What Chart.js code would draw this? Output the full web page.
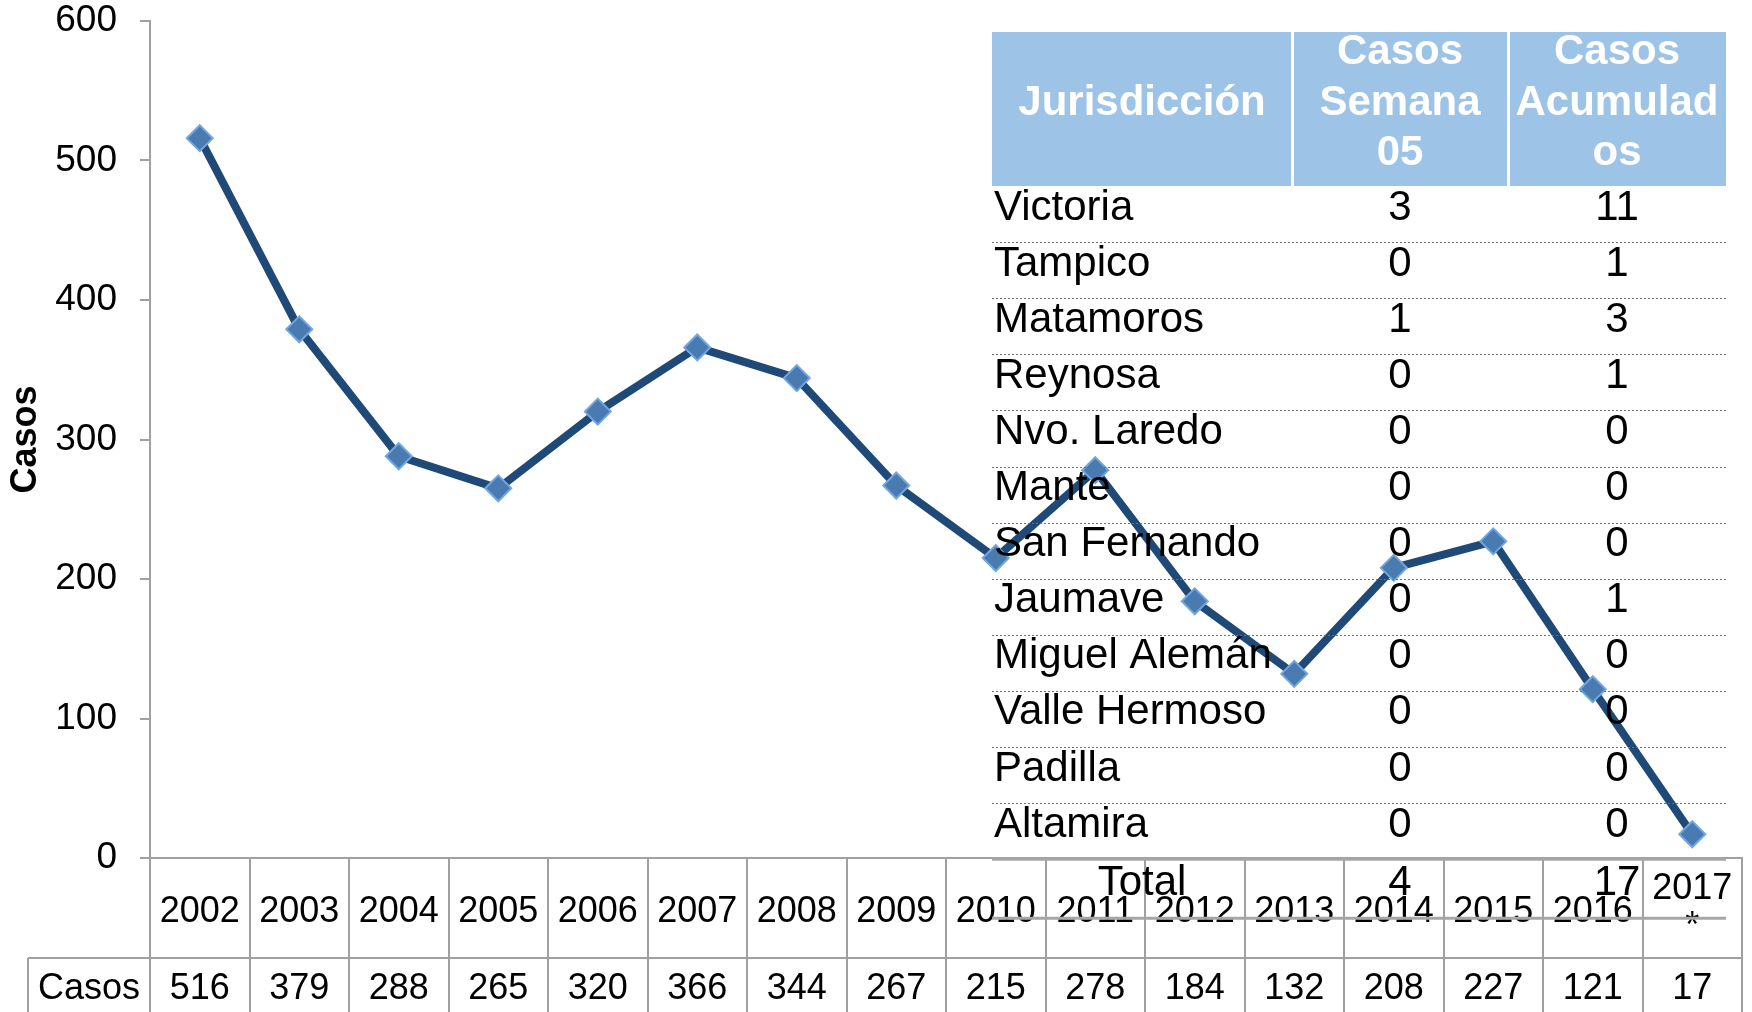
<!DOCTYPE html>
<html>
<head>
<meta charset="utf-8">
<script src="https://cdn.jsdelivr.net/npm/chart.js@4.4.0/dist/chart.umd.min.js"></script>
<style>
  body { margin: 0; background: #fff; }
  #wrap { width: 1752px; height: 1012px; }
</style>
</head>
<body>
<div id="wrap"><canvas id="chart" width="1752" height="1012"></canvas></div>
<script>
// datos de la grafica
const years = ['2002', '2003', '2004', '2005', '2006', '2007', '2008', '2009', '2010', '2011', '2012', '2013', '2014', '2015', '2016', '2017\n*'];
const casos = [516, 379, 288, 265, 320, 366, 344, 267, 215, 278, 184, 132, 208, 227, 121, 17];
const yTicks = [0, 100, 200, 300, 400, 500, 600];

// tabla por jurisdiccion
const encabezados = [['Jurisdicción'], ['Casos', 'Semana', '05'], ['Casos', 'Acumulad', 'os']];
const jurisdicciones = ['Victoria', 'Tampico', 'Matamoros', 'Reynosa', 'Nvo. Laredo', 'Mante', 'San Fernando', 'Jaumave', 'Miguel Alemán', 'Valle Hermoso', 'Padilla', 'Altamira'];
const semana05 = [3, 0, 1, 0, 0, 0, 0, 0, 0, 0, 0, 0];
const acumulados = [11, 1, 3, 1, 0, 0, 0, 1, 0, 0, 0, 0];
const totales = ['Total', 4, 17];

const FONT = '"Liberation Sans", Arial, sans-serif';
const GRIS = '#a0a0a0';
Chart.defaults.font.family = FONT;
Chart.defaults.color = '#000';

const tablas = {
	id: 'tablas',
	afterDraw(chart) {
		const c = chart.ctx;
		const x = chart.scales.x;
		const step = (x.right - x.left) / years.length;
		const top = x.top;
		const split = top + 100;
		const bottom = chart.height;

		// tabla de datos bajo el eje
		c.save();
		c.strokeStyle = GRIS;
		c.lineWidth = 2;
		c.beginPath();
		for (let k = 0; k <= years.length; k++) {
			const px = Math.round(x.getPixelForValue(0) - step / 2 + k * step);
			c.moveTo(px, top);
			c.lineTo(px, bottom);
		}
		c.moveTo(28, split);
		c.lineTo(x.right, split);
		c.moveTo(28, split);
		c.lineTo(28, bottom);
		c.stroke();

		c.fillStyle = '#000';
		c.textAlign = 'center';
		c.textBaseline = 'middle';
		c.font = '36px ' + FONT;
		years.forEach((y, i) => {
			const cx = x.getPixelForValue(i);
			const lines = y.split('\n');
			if (lines.length === 1) {
				c.fillText(lines[0], cx, top + 54);
			} else {
				lines.forEach((l, j) => c.fillText(l, cx, top + 31 + j * 38));
			}
			c.fillText(String(casos[i]), cx, split + 31);
		});
		c.fillText('Casos', (28 + x.left) / 2, split + 31);

		// tabla de jurisdicciones
		const L = 992, R = 1726, c1 = 1292, c2 = 1508;
		const hTop = 32, hBot = 186, rowH = 56.1;
		const cols = [(L + c1) / 2, (c1 + c2) / 2, (c2 + R) / 2];
		c.fillStyle = '#9dc3e6';
		c.fillRect(L, hTop, R - L, hBot - hTop);
		c.fillStyle = '#fff';
		c.fillRect(c1 - 1, hTop, 3, hBot - hTop);
		c.fillRect(c2 - 1, hTop, 3, hBot - hTop);
		c.font = 'bold 42px ' + FONT;
		const mid = (hTop + hBot) / 2 - 6;
		encabezados.forEach((lines, j) => {
			lines.forEach((l, k) => {
				c.fillText(l, cols[j], mid + (k - (lines.length - 1) / 2) * 50.5);
			});
		});

		c.fillStyle = '#000';
		c.font = '42px ' + FONT;
		jurisdicciones.forEach((n, i) => {
			const ty = hBot + i * rowH + 22;
			c.textAlign = 'left';
			c.fillText(n, L + 2, ty);
			c.textAlign = 'center';
			c.fillText(String(semana05[i]), cols[1], ty);
			c.fillText(String(acumulados[i]), cols[2], ty);
		});

		c.strokeStyle = '#707070';
		c.lineWidth = 1;
		c.setLineDash([2, 2]);
		c.beginPath();
		for (let k = 1; k < jurisdicciones.length; k++) {
			const py = Math.round(hBot + k * rowH) + 0.5;
			c.moveTo(L, py);
			c.lineTo(R, py);
		}
		c.stroke();
		c.setLineDash([]);

		const tTop = hBot + jurisdicciones.length * rowH;
		c.strokeStyle = '#a6a6a6';
		c.lineWidth = 3;
		c.beginPath();
		c.moveTo(L, tTop);
		c.lineTo(R, tTop);
		c.moveTo(L, tTop + 59);
		c.lineTo(R, tTop + 59);
		c.stroke();
		c.textAlign = 'center';
		totales.forEach((t, j) => c.fillText(String(t), cols[j], tTop + 24));
		c.restore();
	}
};

new Chart(document.getElementById('chart'), {
	type: 'line',
	data: {
		labels: years,
		datasets: [
			{
				data: casos,
				borderColor: '#1f4a78',
				borderWidth: 8,
				borderJoinStyle: 'round',
				tension: 0,
				pointStyle: 'rectRot',
				pointRadius: 13,
				pointBackgroundColor: '#4a7bb0',
				pointBorderColor: '#72a6e0',
				pointBorderWidth: 2,
				clip: false,
			},
		],
	},
	options: {
		responsive: false,
		animation: false,
		devicePixelRatio: 1,
		layout: { autoPadding: false, padding: { top: 21, right: 10, left: 0, bottom: 0 } },
		plugins: {
			legend: { display: false },
			tooltip: { enabled: false },
		},
		scales: {
			x: {
				offset: true,
				ticks: { display: false },
				grid: { display: false, offset: true },
				border: { display: true, color: GRIS, width: 2 },
				afterFit: (s) => { s.height = 154; },
			},
			y: {
				min: 0,
				max: 600,
				afterBuildTicks: (s) => { s.ticks = yTicks.map((v) => ({ value: v })); },
				ticks: { padding: 23, font: { size: 37 }, color: '#000' },
				grid: { drawOnChartArea: false, tickLength: 10, color: GRIS, lineWidth: 2 },
				border: { color: GRIS, width: 2 },
				title: { display: true, text: 'Casos', font: { size: 36, weight: 'bold' }, padding: { top: 4, bottom: 0 } },
				afterFit: (s) => {
					s.width = 150;
					s.paddingTop = 0;
					s.paddingBottom = 0;
				},
			},
		},
	},
	plugins: [tablas],
});
</script>
</body>
</html>
